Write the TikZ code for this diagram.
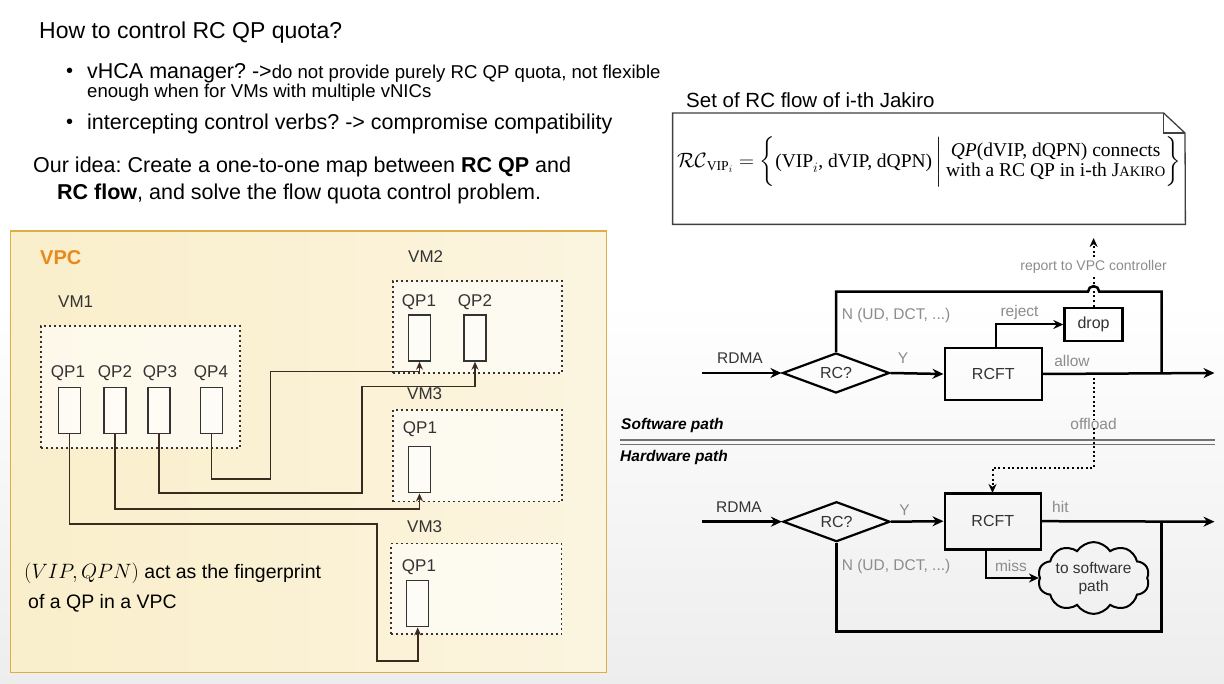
\documentclass[tikz,border=0pt]{standalone}
\usepackage{fontspec}
\usepackage{amsmath}
\setmainfont{Liberation Sans}
\newfontfamily\serifnote{Liberation Serif}
\usetikzlibrary{arrows.meta,shapes.geometric,shapes.symbols,calc}
\newcommand{\myfs}[2]{\fontsize{#1}{#2}\selectfont}
\frenchspacing
\definecolor{vpcfill}{HTML}{FAEFCB}
\definecolor{vpcfilltwo}{HTML}{FBF4DF}
\definecolor{vpcborder}{HTML}{DDAE45}
\definecolor{vpcorange}{HTML}{E8891C}
\definecolor{wire}{HTML}{3B2A1E}
\definecolor{glab}{HTML}{8C8C8C}
\definecolor{dk}{HTML}{333333}
\tikzset{
  flow/.style={line width=2.5pt,-{Stealth[length=11pt,width=10pt]}},
  thick line/.style={line width=2.5pt},
  bx/.style={draw=black,line width=2.6pt,text=dk,font=\myfs{16}{18},inner sep=0pt},
  dia/.style={diamond,draw=black,line width=2.2pt,aspect=2.67,minimum width=107pt,minimum height=40pt,inner sep=0pt,text=dk,font=\myfs{16}{18}},
  glabel/.style={text=glab,font=\myfs{15.5}{17},inner sep=0pt},
  blabel/.style={text=dk,font=\myfs{15.5}{17},inner sep=0pt},
  dotline/.style={line width=2pt,dash pattern=on 2pt off 2.6pt},
  dotarrow/.style={dotline,-{Stealth[length=9pt,width=8pt]}},
  vmbox/.style={draw=dk,line width=1.7pt,dash pattern=on 1.7pt off 3.3pt,fill=white,fill opacity=0.6,text opacity=1,anchor=north west,inner sep=0pt},
  qp/.style={draw=dk,line width=1.5pt,fill=white,fill opacity=0.5,minimum width=22pt,minimum height=46pt,inner sep=0pt},
  qplab/.style={text=dk,font=\myfs{17}{19},inner sep=0pt},
  vmlab/.style={text=dk,font=\myfs{17}{19},inner sep=0pt,anchor=west},
  wirearrow/.style={draw=wire,line width=1.6pt,-{Stealth[length=8pt,width=7pt]}},
  slide/.style={anchor=west,inner sep=0pt,text=black},
}
\begin{document}
\begin{tikzpicture}[x=1pt,y=-1pt]
\useasboundingbox (0,0) rectangle (1224,684);
\fill[white] (0,0) rectangle (1224,684);
\shade[top color=white,bottom color=black!7] (0,300) rectangle (1224,684);

% ---------- text at the top left ----------
\node[slide,font=\myfs{23}{27}] (title) at (39,33) {How to control RC QP quota?};
\node[slide,font=\myfs{20}{24}] (b1) at (66,73) {•};
\node[slide,font=\myfs{21.5}{25}] (t1) at (87,73) {vHCA manager? ->{\myfs{18.6}{22}do not provide purely RC QP quota, not flexible}};
\node[slide,font=\myfs{18.6}{22}] (t1b) at (87,93) {enough when for VMs with multiple vNICs};
\node[slide,font=\myfs{20}{24}] (b2) at (66,124) {•};
\node[slide,font=\myfs{21.5}{25}] (t2) at (87,124) {intercepting control verbs? -> compromise compatibility};
\node[slide,font=\myfs{21.5}{25}] (idea1) at (33,167) {Our idea: Create a one-to-one map between \textbf{RC QP} and};
\node[slide,font=\myfs{21.5}{25}] (idea2) at (57,194) {\textbf{RC flow}, and solve the flow quota control problem.};

% ---------- VPC ----------
\node[draw=vpcborder,line width=1.6pt,left color=vpcfill,right color=vpcfilltwo,minimum width=596pt,minimum height=441.7pt,anchor=north west,inner sep=0pt] (vpc) at (9.6,230) {};
\node[slide,font=\bfseries\myfs{20}{24},text=vpcorange] (vpclab) at (40,258) {VPC};

\node[vmbox,minimum width=199pt,minimum height=122pt] (vm1) at (40,325) {};
\node[vmbox,minimum width=169pt,minimum height=92pt] (vm2) at (392,280) {};
\node[vmbox,minimum width=169pt,minimum height=91.7pt] (vm3) at (392,409) {};
\node[vmbox,minimum width=170.7pt,minimum height=90.3pt] (vm4) at (390,542.7) {};

\node[vmlab] (vm1lab) at (58,302) {VM1};
\node[vmlab] (vm2lab) at (408,257) {VM2};
\node[vmlab] (vm3lab) at (407,394) {VM3};
\node[vmlab] (vm4lab) at (407,527) {VM3};

% QPs of VM1
\node[qp] (q11) at (69.5,410.5) {};
\node[qp] (q12) at (115,410.5) {};
\node[qp] (q13) at (159,410.5) {};
\node[qp] (q14) at (211.5,410.5) {};
\node[qplab] (l11) at (68,373) {QP1};
\node[qplab] (l12) at (115,373) {QP2};
\node[qplab] (l13) at (160,373) {QP3};
\node[qplab] (l14) at (211,373) {QP4};
% QPs of VM2
\node[qp] (q21) at (419.5,338) {};
\node[qp] (q22) at (475,338) {};
\node[qplab] (l21) at (419,302) {QP1};
\node[qplab] (l22) at (475,302) {QP2};
% QP of VM3 (middle)
\node[qp] (q31) at (419.5,469.7) {};
\node[qplab] (l31) at (420,429) {QP1};
% QP of VM3 (bottom)
\node[qp] (q41) at (417.7,603.7) {};
\node[qplab] (l41) at (419,566.7) {QP1};

% wires
\draw[wirearrow] (q14.south) |- (270.6,479) -- (270.6,371.7) -| (q21.south);
\draw[wirearrow] (q13.south) |- (361.7,492.7) -- (361.7,386.7) -| (q22.south);
\draw[wirearrow] (q12.south) |- (q31.south |- 0,509) -- (q31.south);
\draw[wirearrow] (q11.south) |- (377,524) -- (377,661) -| (q41.south);

\node[slide,font=\myfs{19.5}{23}] (fp1) at (24,573) {$(VIP,QPN)$ act as the fingerprint};
\node[slide,font=\myfs{19.5}{23}] (fp2) at (28,603) {of a QP in a VPC};

% ---------- note with the formula ----------
\node[slide,font=\myfs{20.5}{24}] (settitle) at (686,100) {Set of RC flow of i-th Jakiro};
\node[inner sep=0pt,minimum width=512.4pt,minimum height=111pt,anchor=north west] (note) at (672.6,113) {};
\draw[draw=black!75,line width=1.3pt,fill=white] (note.north west) -- (1163.6,113) -- (1185,133) -- (note.south east) -- (note.south west) -- cycle;
\draw[draw=black!75,line width=1.3pt] (1163.6,113) -- (1163.6,133) -- (1185,133);
\node[font=\myfs{19.5}{22},inner sep=0pt] (formula) at (929,162)
 {$\mathcal{RC}_{\text{\serifnote VIP}_{i}} = \left\{\text{\serifnote (VIP}_{i}\text{\serifnote , dVIP, dQPN)}\,\middle|\,\begin{array}{@{}c@{}}\text{\serifnote\itshape QP}\text{\serifnote (dVIP, dQPN) connects}\\[-2pt] \text{\serifnote with a RC QP in i-th J{\myfs{14.5}{16}AKIRO}}\end{array}\right\}$};

% ---------- software path ----------
\coordinate (sin) at (702,373);
\node[dia] (d1) at (836,373) {RC?};
\node[bx,minimum width=97pt,minimum height=52pt] (r1) at (993.3,374) {RCFT};
\node[bx,minimum width=58pt,minimum height=33pt] (drop) at (1093.6,324.5) {drop};
\coordinate (sout) at (1214.5,373);
\coordinate (off) at (1093.6,373);
\draw[flow] (sin) -- (d1.west);
\draw[flow] (d1.east) -- (r1.west);
\draw[flow] (r1.east) -- (sout);
\draw[thick line] (d1.north) |- (1088,291.7) arc[start angle=180,end angle=360,radius=5.6] -- (1161.7,291.7) -- (1161.7,373);
\draw[line width=2pt,-{Stealth[length=10pt,width=9pt]}] ([xshift=3pt]r1.north) |- (drop.west);

\node[blabel] (rdma1) at (740,358) {RDMA};
\node[glabel] (y1) at (903,358) {Y};
\node[glabel,anchor=west] (n1) at (841.6,315) {N (UD, DCT, ...)};
\node[glabel] (rej) at (1019.5,312.7) {reject};
\node[glabel] (allow) at (1072,360.7) {allow};

\node[glabel,font=\myfs{14}{16}] (rep) at (1093.6,267) {report to VPC controller};
\coordinate (reptip) at (1093.6,238);
\draw[dotline] (drop.north) -- ([yshift=-3pt]rep.south);
\draw[dotarrow] ([yshift=3pt]rep.north) -- (reptip);

% separator
\node[slide,font=\bfseries\itshape\myfs{15.5}{18}] (swlab) at (621,425) {Software path};
\node[slide,font=\bfseries\itshape\myfs{15.5}{18}] (hwlab) at (620,457) {Hardware path};
\draw[black!55,line width=1.3pt] (620,440) -- (1215,440);
\draw[black!55,line width=1.3pt] (620,444.5) -- (1215,444.5);

\node[glabel] (offl) at (1093.6,424) {offload};
\draw[dotline] (off) -- ([yshift=-2pt]offl.north);
\draw[dotarrow] ([yshift=2pt]offl.south) -- (1093.6,468) -| (992.5,493);

% ---------- hardware path ----------
\coordinate (hin) at (702,521.7);
\node[dia] (d2) at (836.5,521.7) {RC?};
\node[bx,minimum width=96pt,minimum height=56pt] (r2) at (992.8,521.2) {RCFT};
\coordinate (hout) at (1214.5,521.7);
\node[cloud,draw=black,line width=2pt,cloud puffs=10,cloud puff arc=115,aspect=1.9,minimum width=104pt,minimum height=56pt,inner sep=0pt,align=center,text=dk,font=\myfs{15.5}{18}] (cl) at (1093.6,578) {to software\\path};
\draw[flow] (hin) -- (d2.west);
\draw[flow] (d2.east) -- (r2.west);
\draw[flow] (r2.east) -- (hout);
\draw[thick line] (d2.south) |- (1161.7,631.7) -- (1161.7,521.7);
\draw[line width=2pt,-{Stealth[length=10pt,width=9pt]}] ([xshift=-6.5pt]r2.south) |- (cl.west);

\node[blabel] (rdma2) at (739,506.7) {RDMA};
\node[glabel] (y2) at (904.6,510) {Y};
\node[glabel,anchor=west] (n2) at (841.6,566) {N (UD, DCT, ...)};
\node[glabel] (hit) at (1060.4,506.7) {hit};
\node[glabel] (miss) at (1011,566) {miss};
\end{tikzpicture}
\end{document}
